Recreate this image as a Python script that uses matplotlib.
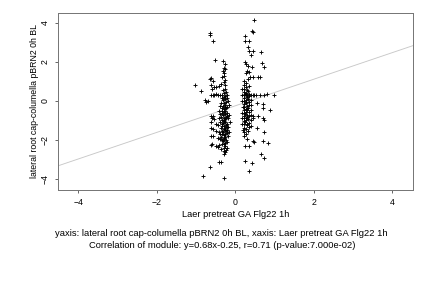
import numpy as np
import matplotlib
matplotlib.use("Agg")
import matplotlib.pyplot as plt

plt.rcParams['font.family'] = ['Liberation Sans', 'DejaVu Sans']

# left column of points (x, y)
left_pts = [
    (-0.64, 3.47), (-0.64, 3.37), (-0.58, 3.06), (-0.53, 2.10), (-0.31, 2.05),
    (-0.25, 1.88), (-0.30, 1.66), (-0.32, 1.55), (-0.29, 1.45), (-0.28, 1.30),
    (-0.65, 1.11), (-0.61, 1.16), (-0.58, 1.02), (-1.04, 0.82), (-0.87, 0.53),
    (-0.63, 0.80), (-0.60, 0.62), (-0.55, 0.70), (-0.48, 0.72), (-0.42, 0.78),
    (-0.36, 0.85), (-0.30, 0.95), (-0.25, 1.05), (-0.63, 0.30), (-0.58, 0.32),
    (-0.55, 0.28), (-0.50, 0.35), (-0.45, 0.30), (-0.40, 0.32), (-0.35, 0.28),
    (-0.78, 0.05), (-0.74, -0.03), (-0.70, 0.02), (-0.82, -3.85), (-0.64, -3.37),
    (-0.28, -3.97), (-0.42, -3.12), (-0.37, -3.12), (-0.28, -2.70), (-0.25, -2.60),
    (-0.30, -2.55), (-0.50, -2.30), (-0.45, -2.35), (-0.60, -2.20), (-0.63, -2.25),
    (-0.58, -1.80), (-0.63, -1.78), (-0.62, -1.40), (-0.57, -1.42), (-0.63, -1.10),
    (-0.60, -0.90), (-0.63, -0.77), (-0.56, -0.78), (-0.55, -0.95), (-0.50, -1.20),
    (-0.48, -1.55), (-0.45, -1.90),
    (-0.31, 0.55), (-0.29, 0.40), (-0.30, 0.20), (-0.32, 0.05), (-0.28, -0.10),
    (-0.31, -0.25), (-0.29, -0.40), (-0.30, -0.55), (-0.32, -0.70), (-0.28, -0.85),
    (-0.30, -1.00), (-0.31, -1.15), (-0.29, -1.30), (-0.30, -1.45), (-0.32, -1.60),
    (-0.28, -1.75), (-0.30, -1.90), (-0.31, -2.05), (-0.29, -2.20), (-0.30, -2.40),
    (-0.25, 0.60), (-0.24, 0.45), (-0.26, 0.25), (-0.25, 0.10), (-0.23, -0.05),
    (-0.26, -0.20), (-0.24, -0.35), (-0.25, -0.50), (-0.27, -0.65), (-0.24, -0.80),
    (-0.25, -0.95), (-0.26, -1.10), (-0.23, -1.25), (-0.25, -1.40), (-0.24, -1.55),
    (-0.26, -1.70), (-0.25, -1.85), (-0.24, -2.00), (-0.26, -2.15), (-0.25, -2.30),
    (-0.23, -2.50),
    (-0.35, 0.15), (-0.36, -0.10), (-0.34, -0.35), (-0.35, -0.60), (-0.37, -0.80),
    (-0.35, -1.00), (-0.34, -1.20), (-0.36, -1.40), (-0.35, -1.55), (-0.33, -1.70),
    (-0.36, -1.85), (-0.35, -2.00), (-0.34, -2.20),
    (-0.20, 0.30), (-0.19, 0.00), (-0.21, -0.30), (-0.20, -0.60), (-0.19, -0.90),
    (-0.21, -1.20), (-0.20, -1.50), (-0.18, -1.80), (-0.20, -2.10),
    (-0.42, -0.50), (-0.41, -0.90), (-0.43, -1.25), (-0.42, -1.60), (-0.40, -1.95),
    (-0.41, -2.25), (-0.15, -0.20), (-0.16, -0.70), (-0.14, -1.10), (-0.15, -1.60),
    (-0.27, -0.30), (-0.33, -0.50), (-0.22, -0.75), (-0.28, -1.05), (-0.33, -1.30),
    (-0.22, -1.35), (-0.27, -1.50), (-0.38, -1.10), (-0.22, -1.65), (-0.28, -1.95),
    (-0.38, -0.25), (-0.22, 0.15), (-0.38, -1.70), (-0.21, -2.40), (-0.36, -2.45),
    (-0.27, 0.80), (-0.33, 1.20), (-0.27, 1.65), (-0.18, -1.35), (-0.39, -0.65),
]

# right column of points (x, y)
right_pts = [
    (0.48, 4.15), (0.43, 3.60), (0.45, 3.55), (0.24, 3.33), (0.24, 3.05),
    (0.36, 3.07), (0.33, 2.75), (0.36, 2.58), (0.45, 2.55), (0.39, 2.36),
    (0.65, 2.48), (0.69, 1.96), (0.73, 1.76), (0.25, 1.98), (0.28, 1.90),
    (0.32, 1.78), (0.30, 1.52), (0.28, 1.45), (0.35, 1.50), (0.42, 1.72),
    (0.45, 1.22), (0.57, 1.22), (0.62, 1.20), (0.38, 1.22), (0.33, 1.10),
    (0.53, 0.30), (0.63, 0.30), (0.72, 0.30), (0.80, 0.35), (0.99, 0.28),
    (0.89, -0.46), (0.70, -0.15), (0.70, -0.36), (0.55, -0.12), (0.58, -0.75),
    (0.45, -0.85), (0.45, -0.75), (0.70, -0.90), (0.73, -1.00), (0.56, -1.37),
    (0.73, -1.60), (0.83, -2.17), (0.70, -2.03), (0.45, -2.05), (0.47, -2.12),
    (0.24, -2.30), (0.36, -2.32), (0.66, -2.74), (0.73, -2.90), (0.25, -3.08),
    (0.43, -3.20), (0.36, -3.59),
    (0.22, 1.00), (0.21, 0.80), (0.23, 0.60), (0.22, 0.45), (0.21, 0.30),
    (0.23, 0.15), (0.22, 0.00), (0.21, -0.15), (0.23, -0.30), (0.22, -0.45),
    (0.21, -0.60), (0.23, -0.75), (0.22, -0.90), (0.21, -1.05), (0.23, -1.20),
    (0.22, -1.40), (0.21, -1.60), (0.23, -1.80),
    (0.28, 0.90), (0.27, 0.70), (0.29, 0.55), (0.28, 0.40), (0.27, 0.30),
    (0.29, 0.20), (0.28, 0.05), (0.27, -0.10), (0.29, -0.25), (0.28, -0.40),
    (0.27, -0.55), (0.29, -0.70), (0.28, -0.85), (0.27, -1.00), (0.29, -1.20),
    (0.28, -1.45), (0.27, -1.70), (0.29, -1.95),
    (0.34, 0.75), (0.33, 0.50), (0.35, 0.35), (0.34, 0.25), (0.33, 0.10),
    (0.35, -0.05), (0.34, -0.20), (0.33, -0.35), (0.35, -0.55), (0.34, -0.75),
    (0.33, -0.95), (0.35, -1.15), (0.34, -1.35), (0.33, -1.55),
    (0.18, 0.60), (0.17, 0.30), (0.18, 0.00), (0.19, -0.30), (0.18, -0.60),
    (0.17, -0.90), (0.18, -1.20), (0.19, -1.50),
    (0.40, 0.30), (0.41, 0.05), (0.40, -0.20), (0.39, -0.45), (0.41, -0.70),
    (0.40, -1.00), (0.39, -1.30),
    (0.45, 0.32), (0.48, 0.28), (0.25, 0.35), (0.31, 0.28), (0.26, -0.05),
    (0.31, -0.45), (0.25, -0.65), (0.31, -0.80), (0.25, -1.10), (0.31, -1.25),
]

slope = 0.68
intercept = -0.25
xlim = (-4.52, 4.53)
ylim = (-4.56, 4.5)
xticks = [-4, -2, 0, 2, 4]
yticks = [-4, -2, 0, 2, 4]

xlabel = "Laer pretreat GA Flg22 1h"
ylabel = "lateral root cap-columella pBRN2 0h BL"
caption1 = "yaxis: lateral root cap-columella pBRN2 0h BL, xaxis: Laer pretreat GA Flg22 1h"
caption2 = "Correlation of module: y=0.68x-0.25, r=0.71 (p-value:7.000e-02)"

pts = np.array(left_pts + right_pts)

fig = plt.figure(figsize=(6, 4), dpi=72)
ax = fig.add_axes([58 / 432, 1 - 190 / 288, (413 - 58) / 432, (190 - 13) / 288])

lx = np.array(xlim)
ax.plot(lx, slope * lx + intercept, color='#c8c8c8', lw=0.9, zorder=1)
ax.scatter(pts[:, 0], pts[:, 1], marker='+', s=18, color='black', linewidths=0.9, zorder=2)

ax.set_xlim(*xlim)
ax.set_ylim(*ylim)
ax.set_xticks(xticks)
ax.set_yticks(yticks)
ax.tick_params(labelsize=8.8, length=3, width=0.8, color='#444444', pad=5)
for lab in ax.get_yticklabels():
    lab.set_rotation(90)
    lab.set_va('center')
for sp in ax.spines.values():
    sp.set_color('#777777')
    sp.set_linewidth(1.0)

ax.set_xlabel(xlabel, fontsize=9.2, labelpad=3)
ax.set_ylabel(ylabel, fontsize=8.8, labelpad=2)

fig.text(0.513, 1 - 233 / 288, caption1, fontsize=9.4, ha='center', va='center')
fig.text(0.515, 1 - 245 / 288, caption2, fontsize=9.4, ha='center', va='center')

fig.savefig("out.png", dpi=72)
